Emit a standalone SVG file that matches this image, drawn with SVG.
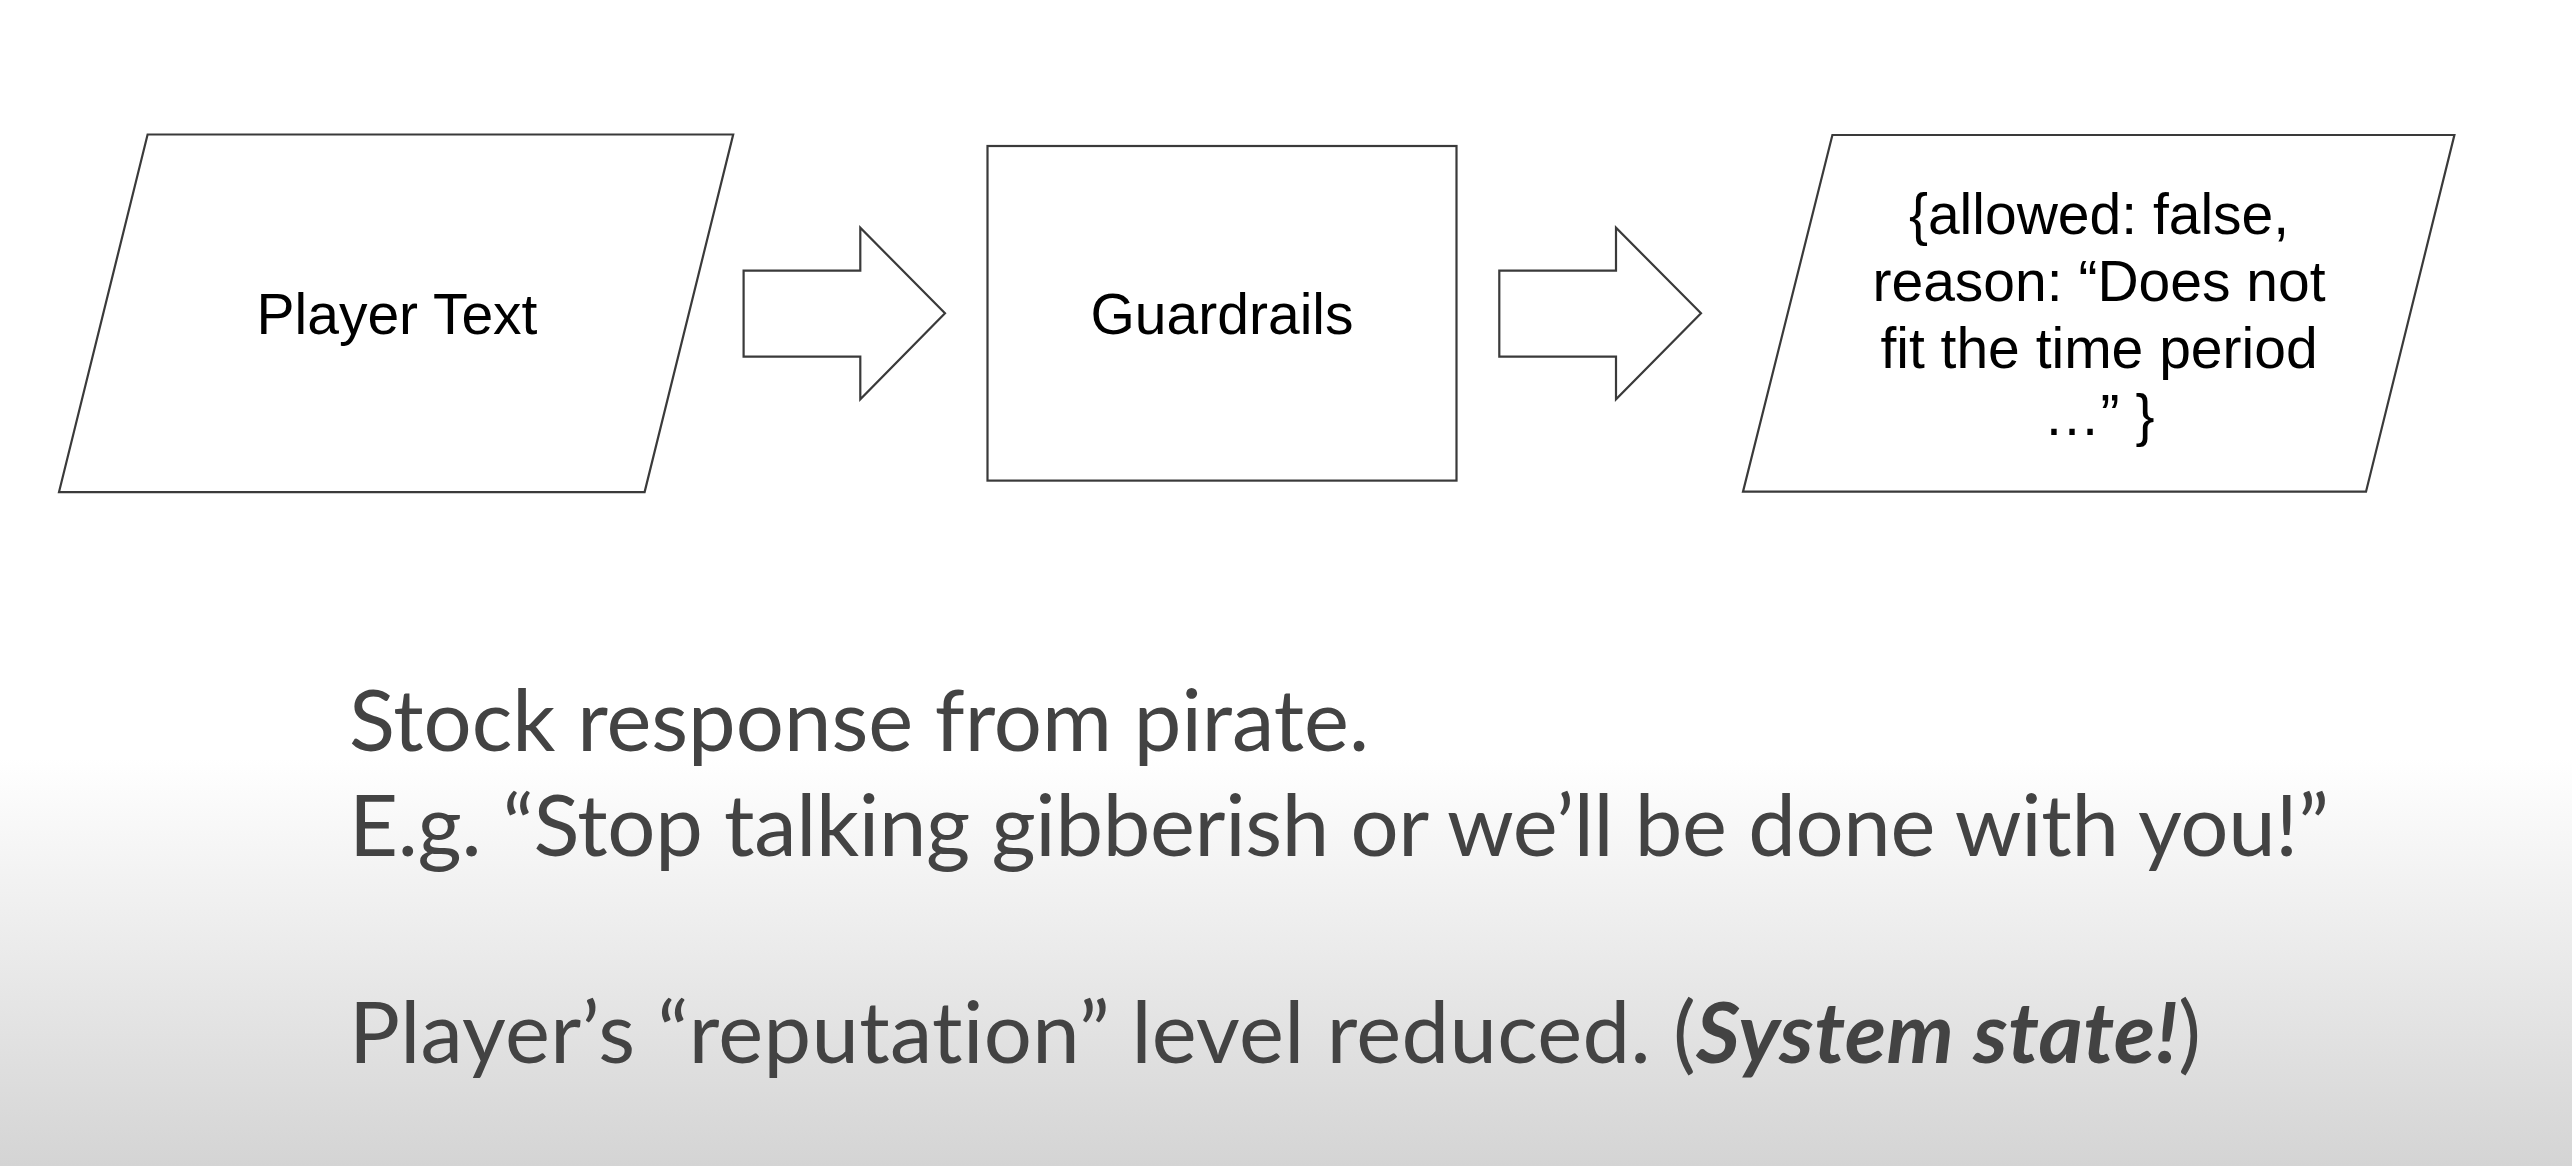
<svg xmlns="http://www.w3.org/2000/svg" width="2572" height="1166" viewBox="0 0 2572 1166">
<defs>
<linearGradient id="bg" x1="0" y1="0" x2="0" y2="1166" gradientUnits="userSpaceOnUse">
<stop offset="0" stop-color="#ffffff"/>
<stop offset="0.65" stop-color="#ffffff"/>
<stop offset="1" stop-color="#d4d4d4"/>
</linearGradient>
<style>
.shape{fill:#ffffff;stroke:#3a3a3a;stroke-width:2.2;stroke-linejoin:miter}
.lbl{font-family:"Liberation Sans",Arial,sans-serif;font-size:57px;fill:#000000;text-anchor:middle}
.body{font-family:Lato,"Open Sans",sans-serif;font-size:85px;fill:#434343;font-variant-ligatures:none}
</style>
</defs>
<rect x="0" y="0" width="2572" height="1166" fill="url(#bg)"/>
<g id="player-text">
<polygon class="shape" points="147.6,134.5 733.2,134.5 644.6,492.1 59,492.1"/>
<text class="lbl" x="397" y="334">Player Text</text>
</g>
<g id="guardrails">
<rect class="shape" x="987.5" y="146" width="469" height="334.6"/>
<text class="lbl" x="1222" y="334">Guardrails</text>
</g>
<g id="result">
<polygon class="shape" points="1832.4,135 2454.4,135 2366,491.7 1743,491.7"/>
<text class="lbl" x="2099" y="234">{allowed: false,</text>
<text class="lbl" x="2099" y="301">reason: “Does not</text>
<text class="lbl" x="2099" y="368">fit the time period</text>
<text class="lbl" x="2099" y="435">…” }</text>
</g>
<g id="connectors">
<polygon class="shape" points="743.6,270.7 860.3,270.7 860.3,227.7 945,313.3 860.3,399.3 860.3,356.7 743.6,356.7"/>
<polygon class="shape" points="1499.3,270.7 1616,270.7 1616,227.7 1701,313.3 1616,399.3 1616,356.7 1499.3,356.7"/>
</g>
<g id="notes">
<text class="body" x="349" y="751" textLength="1020" lengthAdjust="spacing">Stock response from pirate.</text>
<text class="body" x="349" y="856" textLength="1980" lengthAdjust="spacing">E.g. “Stop talking gibberish or we’ll be done with you!”</text>
<text class="body" x="349" y="1063" textLength="1852" lengthAdjust="spacing">Player’s “reputation” level reduced. (<tspan font-weight="bold" font-style="italic">System state!</tspan>)</text>
</g>
</svg>
